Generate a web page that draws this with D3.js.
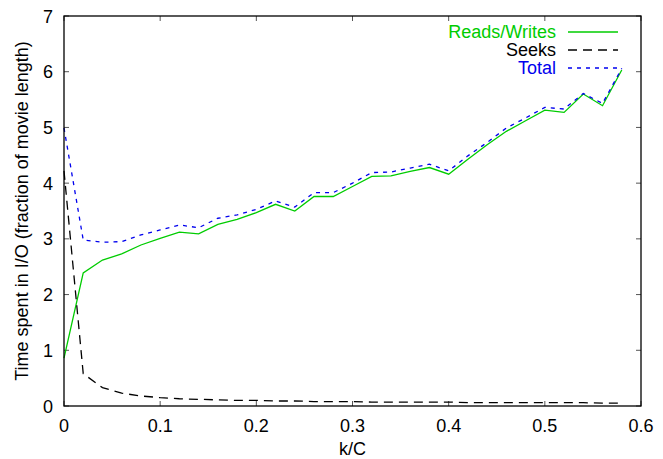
<!DOCTYPE html>
<html>
<head>
<meta charset="utf-8">
<script src="https://cdn.jsdelivr.net/npm/d3@7"></script>
<style>
  body { margin: 0; background: #fff; }
  text { font-family: "Liberation Sans", Arial, sans-serif; }
</style>
</head>
<body>
<svg id="chart" width="663" height="459"></svg>
<script>
// k/C values, step 0.02
var kc = [0, 0.02, 0.04, 0.06, 0.08, 0.10, 0.12, 0.14, 0.16, 0.18,
          0.20, 0.22, 0.24, 0.26, 0.28, 0.30, 0.32, 0.34, 0.36, 0.38,
          0.40, 0.42, 0.44, 0.46, 0.48, 0.50, 0.52, 0.54, 0.56, 0.58];

var readsWrites = [0.86, 2.39, 2.62, 2.73, 2.89, 3.01, 3.12, 3.09, 3.26, 3.35,
                   3.47, 3.62, 3.50, 3.76, 3.76, 3.94, 4.12, 4.13, 4.21, 4.28,
                   4.16, 4.43, 4.69, 4.93, 5.12, 5.31, 5.27, 5.60, 5.39, 6.03];

var seeks = [4.22, 0.58, 0.33, 0.23, 0.18, 0.15, 0.13, 0.12, 0.11, 0.10,
             0.10, 0.09, 0.09, 0.08, 0.08, 0.08, 0.07, 0.07, 0.07, 0.07,
             0.07, 0.06, 0.06, 0.06, 0.06, 0.06, 0.06, 0.06, 0.05, 0.05];

var total = [4.99, 2.98, 2.94, 2.95, 3.07, 3.16, 3.25, 3.20, 3.37, 3.43,
             3.53, 3.68, 3.57, 3.83, 3.83, 4.00, 4.19, 4.20, 4.27, 4.34,
             4.22, 4.49, 4.73, 4.99, 5.17, 5.36, 5.33, 5.61, 5.43, 6.06];

var xTicks = [0, 0.1, 0.2, 0.3, 0.4, 0.5, 0.6];
var yTicks = [0, 1, 2, 3, 4, 5, 6, 7];

var series = [
  { name: "Reads/Writes", values: readsWrites, color: "#00cc00", dash: null },
  { name: "Seeks", values: seeks, color: "#000000", dash: "9,6" },
  { name: "Total", values: total, color: "#0000ee", dash: "4,5" }
];

var mLeft = 64, mRight = 641, mTop = 16, mBottom = 406;
var fs = 18;

var svg = d3.select("#chart");

var x = d3.scaleLinear().domain([0, 0.6]).range([mLeft, mRight]);
var y = d3.scaleLinear().domain([0, 7]).range([mBottom, mTop]);

// ticks on all four sides, pointing inward
var g = svg.append("g");
var tickLen = 5;
xTicks.forEach(function(t) {
  g.append("line").attr("x1", x(t)).attr("x2", x(t))
    .attr("y1", mBottom).attr("y2", mBottom - tickLen)
    .attr("stroke", "#555").attr("stroke-width", 1);
  g.append("line").attr("x1", x(t)).attr("x2", x(t))
    .attr("y1", mTop).attr("y2", mTop + tickLen)
    .attr("stroke", "#555").attr("stroke-width", 1);
  g.append("text").attr("x", x(t)).attr("y", 432)
    .attr("text-anchor", "middle").attr("font-size", fs)
    .text(d3.format("")(t));
});
yTicks.forEach(function(t) {
  g.append("line").attr("x1", mLeft).attr("x2", mLeft + tickLen)
    .attr("y1", y(t)).attr("y2", y(t))
    .attr("stroke", "#555").attr("stroke-width", 1);
  g.append("line").attr("x1", mRight).attr("x2", mRight - tickLen)
    .attr("y1", y(t)).attr("y2", y(t))
    .attr("stroke", "#555").attr("stroke-width", 1);
  g.append("text").attr("x", mLeft - 11).attr("y", y(t) + 6.5)
    .attr("text-anchor", "end").attr("font-size", fs)
    .text(t);
});

var line = d3.line()
  .x(function(d, i) { return x(kc[i]); })
  .y(function(d) { return y(d); });

series.forEach(function(s) {
  svg.append("path")
    .datum(s.values)
    .attr("d", line)
    .attr("fill", "none")
    .attr("stroke", s.color)
    .attr("stroke-width", 1.3)
    .attr("stroke-dasharray", s.dash);
});

// frame
svg.append("rect")
  .attr("x", mLeft).attr("y", mTop)
  .attr("width", mRight - mLeft).attr("height", mBottom - mTop)
  .attr("fill", "none").attr("stroke", "#000").attr("stroke-width", 1.3);

// legend
var legend = svg.append("g");
series.forEach(function(s, i) {
  var ly = 32 + i * 18;
  legend.append("text").attr("x", 556).attr("y", ly + 6)
    .attr("text-anchor", "end").attr("font-size", fs)
    .attr("fill", s.color).text(s.name);
  legend.append("line").attr("x1", 568).attr("x2", 618)
    .attr("y1", ly).attr("y2", ly)
    .attr("stroke", s.color).attr("stroke-width", 1.3)
    .attr("stroke-dasharray", s.dash);
});

// axis titles
svg.append("text").attr("x", (mLeft + mRight) / 2).attr("y", 455)
  .attr("text-anchor", "middle").attr("font-size", fs).text("k/C");
svg.append("text")
  .attr("transform", "translate(28," + ((mTop + mBottom) / 2) + ") rotate(-90)")
  .attr("text-anchor", "middle").attr("font-size", fs)
  .text("Time spent in I/O (fraction of movie length)");
</script>
</body>
</html>
